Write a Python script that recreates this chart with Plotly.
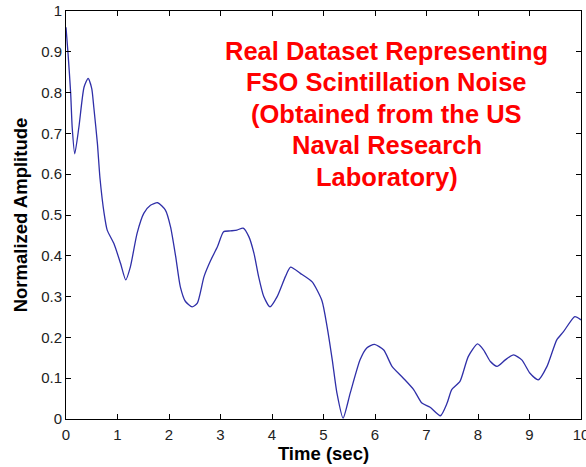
import plotly.graph_objects as go

time_sec = [0.00, 0.04, 0.09, 0.12, 0.17, 0.25, 0.35, 0.43, 0.50, 0.54, 0.61, 0.66, 0.74, 0.80, 0.93,
            1.06, 1.16, 1.25, 1.38, 1.51, 1.64, 1.78, 1.93, 2.03, 2.13, 2.22, 2.32, 2.45, 2.55, 2.68,
            2.81, 2.94, 3.06, 3.19, 3.32, 3.44, 3.55, 3.65, 3.74, 3.84, 3.96, 4.10, 4.26, 4.36, 4.55,
            4.78, 4.97, 5.07, 5.17, 5.26, 5.38, 5.52, 5.71, 5.84, 5.99, 6.17, 6.33, 6.55, 6.75, 6.91,
            7.07, 7.27, 7.40, 7.49, 7.65, 7.81, 7.99, 8.11, 8.24, 8.37, 8.53, 8.69, 8.85, 9.01, 9.17,
            9.34, 9.53, 9.66, 9.88, 10.0]
amplitude = [0.96, 0.895, 0.80, 0.715, 0.65, 0.715, 0.813, 0.835, 0.81, 0.764, 0.675, 0.59, 0.504, 0.463, 0.43,
             0.381, 0.341, 0.373, 0.455, 0.504, 0.524, 0.53, 0.512, 0.471, 0.398, 0.324, 0.288, 0.275, 0.284, 0.349,
             0.389, 0.422, 0.459, 0.461, 0.463, 0.468, 0.447, 0.406, 0.349, 0.30, 0.275, 0.30, 0.349, 0.372, 0.357,
             0.336, 0.29, 0.226, 0.145, 0.064, 0.002, 0.064, 0.145, 0.174, 0.183, 0.169, 0.129, 0.10, 0.072, 0.039,
             0.029, 0.008, 0.039, 0.072, 0.092, 0.153, 0.184, 0.169, 0.141, 0.129, 0.145, 0.157, 0.145, 0.112, 0.096,
             0.129, 0.194, 0.214, 0.251, 0.243]

x_ticks = [0, 1, 2, 3, 4, 5, 6, 7, 8, 9, 10]
y_ticks = [0, 0.1, 0.2, 0.3, 0.4, 0.5, 0.6, 0.7, 0.8, 0.9, 1]
y_tick_labels = ["0", "0.1", "0.2", "0.3", "0.4", "0.5", "0.6", "0.7", "0.8", "0.9", "1"]

note_lines = ["Real Dataset Representing", "FSO Scintillation Noise", "(Obtained from the US",
              "Naval Research", "Laboratory)"]

FONT = "Liberation Sans, Arial, Helvetica"

fig = go.Figure()
fig.add_trace(go.Scatter(x=time_sec, y=amplitude, mode="lines",
                         line=dict(color="#2f2fa8", width=1.3, shape="spline", smoothing=0.6),
                         showlegend=False))

# annotation block: centre at x=6.23, first line centre at y=0.903, line pitch 0.0775 (data units)
note_x = 6.23
first_line_y = 0.903
line_pitch = 0.0775
for i, line in enumerate(note_lines):
    fig.add_annotation(x=note_x, y=first_line_y - i * line_pitch, xref="x", yref="y", text=line,
                       showarrow=False, xanchor="center", yanchor="middle", align="center",
                       font=dict(family=FONT, size=25.5, color="#ff0000", weight="bold"))

axis_common = dict(showline=True, linecolor="#000000", linewidth=1, mirror="ticks",
                   ticks="inside", ticklen=5, tickcolor="#000000", showgrid=False, zeroline=False,
                   ticklabeloverflow="allow",
                   tickfont=dict(family=FONT, size=15, color="#222222"))

fig.update_xaxes(range=[0, 10], tickvals=x_ticks, ticktext=[str(v) for v in x_ticks],
                 ticklabelstandoff=2,
                 title=dict(text="Time (sec)", standoff=4,
                            font=dict(family=FONT, size=18.5, color="#000000", weight="bold")),
                 **axis_common)
fig.update_yaxes(range=[0, 1], tickvals=y_ticks, ticktext=y_tick_labels,
                 title=dict(text="Normalized Amplitude", standoff=8,
                            font=dict(family=FONT, size=18.5, color="#000000", weight="bold")),
                 **axis_common)

fig.update_layout(width=586, height=467, margin=dict(l=65.5, r=4.5, t=11, b=47.7, autoexpand=False),
                  paper_bgcolor="white", plot_bgcolor="white")

fig.write_html("out.html", config={"displayModeBar": False},
               post_script="document.body.style.margin='0';document.body.style.overflow='hidden';")
